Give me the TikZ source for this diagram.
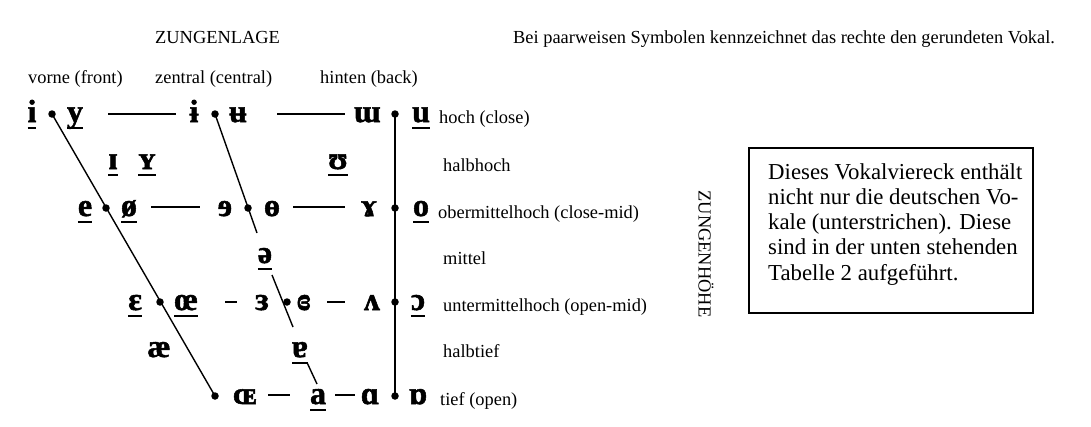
\documentclass[tikz,border=0pt]{standalone}
\usepackage{fontspec}
\setmainfont{Liberation Serif}
\newfontfamily\ipafont{Liberation Serif Bold}[FakeBold=1.6]
\usetikzlibrary{calc}
\newcommand\ipaU[1]{\setbox0\hbox{#1}\rlap{\rule[-6.8pt]{\wd0}{1.6pt}}\box0}
\tikzset{
  v/.style={font=\fontsize{32}{34}\ipafont, inner sep=0pt, anchor=base},
  lbl/.style={font=\fontsize{18.4}{20}\selectfont, inner sep=0pt, anchor=base west},
  pt/.style={circle, fill=black, inner sep=0pt, minimum size=7.5pt},
  ln/.style={line width=1.4pt},
  hln/.style={line width=1.9pt},
  vln/.style={line width=2.4pt},
  boxst/.style={draw, line width=2pt, inner sep=0pt, minimum width=284pt, minimum height=165pt, anchor=north west},
  boxtext/.style={font=\fontsize{22.8}{25.3}\selectfont, inner sep=0pt, align=left, anchor=north west},
}
\begin{document}
\begin{tikzpicture}[x=1pt,y=-1pt]
\useasboundingbox (0,0) rectangle (1091,426);
\fill[white] (0,0) rectangle (1091,426);

% headings
\node[lbl] (zl) at (155,43) {ZUNGENLAGE};
\node[lbl] (note) at (513,43) {Bei paarweisen Symbolen kennzeichnet das rechte den gerundeten Vokal.};
\node[lbl] (front) at (28,83) {vorne (front)};
\node[lbl] (central) at (155,83) {zentral (central)};
\node[lbl] (back) at (320,83) {hinten (back)};

% row labels
\node[lbl] (r1) at (439,123) {hoch (close)};
\node[lbl] (r2) at (443,171) {halbhoch};
\node[lbl] (r3) at (438,218) {obermittelhoch (close-mid)};
\node[lbl] (r4) at (443,264) {mittel};
\node[lbl] (r5) at (443,311) {untermittelhoch (open-mid)};
\node[lbl] (r6) at (443,357) {halbtief};
\node[lbl] (r7) at (440,405) {tief (open)};

\node[font=\fontsize{18.4}{20}\selectfont, inner sep=0pt, rotate=-90] (zh) at (706,254) {ZUNGENHÖHE};

% box
\node[boxst] (box) at (748,147) {};
\node[boxtext] (btext) at (768,163) {Dieses Vokalviereck enthält\\nicht nur die deutschen Vo-\\kale (unterstrichen). Diese\\sind in der unten stehenden\\Tabelle 2 aufgeführt.};

% dots
\node[pt] (d1a) at (52,114) {};
\node[pt] (d1b) at (215,114) {};
\node[pt] (d1c) at (395,114) {};
\node[pt] (d3a) at (106,208) {};
\node[pt] (d3b) at (248,208) {};
\node[pt] (d3c) at (395,208) {};
\node[pt] (d5a) at (160,302) {};
\node[pt] (d5b) at (287,302) {};
\node[pt] (d5c) at (395,302) {};
\node[pt] (d7a) at (215,396) {};
\node[pt] (d7c) at (395,396) {};

% vowels row 1
\node[v] (vi) at (32,122) {\ipaU{i}};
\node[v] (vy) at (75,122) {\ipaU{y}};
\node[v] (vbi) at (194,122) {ɨ};
\node[v] (vbu) at (238,122) {ʉ};
\node[v] (vum) at (367,122) {ɯ};
\node[v] (vu) at (421,122) {\ipaU{u}};
% row 2
\node[v] (vsi) at (113,169) {\ipaU{ɪ}};
\node[v] (vsy) at (147,169) {\ipaU{ʏ}};
\node[v] (vsu) at (338,169) {\ipaU{ʊ}};
% row 3
\node[v] (ve) at (85,216) {\ipaU{e}};
\node[v] (voe) at (129,216) {\ipaU{ø}};
\node[v] (vre) at (225,216) {ɘ};
\node[v] (vbo) at (272,216) {ɵ};
\node[v] (vgam) at (369,216) {ɤ};
\node[v] (vo) at (421,216) {\ipaU{o}};
% row 4
\node[v] (vschwa) at (265,263) {\ipaU{ə}};
% row 5
\node[v] (veps) at (135,310) {\ipaU{ɛ}};
\node[v] (voel) at (186,310) {\ipaU{œ}};
\node[v] (vreps) at (262,310) {ɜ};
\node[v] (vceps) at (304,310) {ɞ};
\node[v] (vwedge) at (372,310) {ʌ};
\node[v] (vopo) at (418,310) {\ipaU{ɔ}};
% row 6
\node[v] (vae) at (159,357) {æ};
\node[v] (vta) at (300,357) {\ipaU{ɐ}};
% row 7
\node[v] (voeS) at (245,404) {ɶ};
\node[v] (va) at (318,404) {\ipaU{a}};
\node[v] (valpha) at (370,404) {ɑ};
\node[v] (vtalpha) at (418,404) {ɒ};

% free ends
\coordinate (cEnd) at (257,233);
\coordinate (sTop) at (272,275);
\coordinate (sBot) at (293,327);
\coordinate (tS) at (307,362.5);
\coordinate (tE) at (317,384);
\coordinate (h1s) at (108,114); \coordinate (h1e) at (176,114);
\coordinate (h2s) at (277,114); \coordinate (h2e) at (345,114);
\coordinate (h3s) at (151,207); \coordinate (h3e) at (200,207);
\coordinate (h4s) at (293,207); \coordinate (h4e) at (345,207);
\coordinate (h5s) at (225,302); \coordinate (h5e) at (237,302);
\coordinate (h6s) at (327,302); \coordinate (h6e) at (345,302);
\coordinate (h7s) at (268,395); \coordinate (h7e) at (290,395);
\coordinate (h8s) at (335,395); \coordinate (h8e) at (355,395);

% lines
\draw[ln] (d1a.center) -- (d7a.center);
\draw[ln] (d1b.center) -- (cEnd);
\draw[ln] (sTop) -- (sBot);
\draw[ln] (tS) -- (tE);
\draw[vln] (d1c.center) -- (d7c.center);
\foreach \k in {1,...,8} {\draw[hln] (h\k s) -- (h\k e);}
\end{tikzpicture}
\end{document}
